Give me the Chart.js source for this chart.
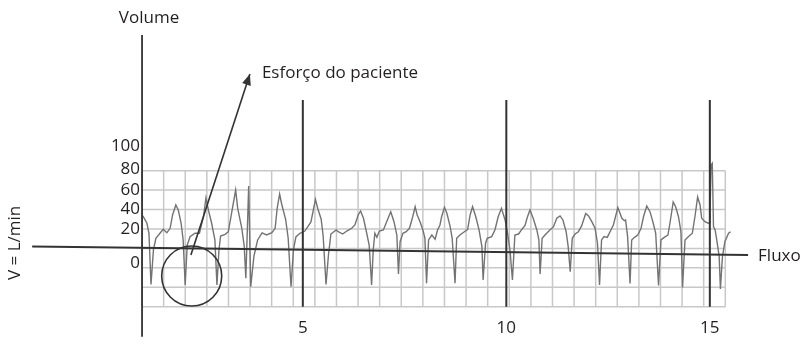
<!DOCTYPE html>
<html>
<head>
<meta charset="utf-8">
<script src="https://cdn.jsdelivr.net/npm/chart.js@4/dist/chart.umd.min.js"></script>
<style>
  html, body { margin: 0; padding: 0; background: #fff; }
  #wrap { width: 801px; height: 344px; }
</style>
</head>
<body>
<div id="wrap"><canvas id="c" width="801" height="344"></canvas></div>
<script>
// Ventilator flow trace: time (s) against flow (L/min)
const timeS = [
  1.07, 1.17, 1.22, 1.27, 1.33, 1.39, 1.49, 1.57, 1.66, 1.74, 1.80, 1.88, 1.94, 2.01, 2.06, 2.11,
  2.16, 2.23, 2.35, 2.46, 2.56, 2.62, 2.68, 2.76, 2.84, 2.89,
  2.94, 2.98, 3.09, 3.17, 3.25, 3.35, 3.40, 3.50, 3.56, 3.60, 3.67, 3.72,
  3.80, 3.89, 4.00, 4.11, 4.24, 4.32, 4.37, 4.43, 4.48, 4.58, 4.64, 4.71,
  4.77, 4.83, 4.93, 5.05, 5.20, 5.31, 5.37, 5.45, 5.50, 5.57,
  5.63, 5.69, 5.82, 5.87, 5.98, 6.08, 6.20, 6.28, 6.36, 6.42, 6.49, 6.57, 6.63, 6.69,
  6.73, 6.77, 6.82, 6.88, 6.98, 7.06, 7.16, 7.24, 7.31, 7.35,
  7.39, 7.46, 7.54, 7.62, 7.70, 7.76, 7.81, 7.88, 7.95, 8.00, 8.04,
  8.09, 8.17, 8.25, 8.31, 8.37, 8.41, 8.48, 8.54, 8.62, 8.67, 8.74,
  8.78, 8.86, 8.97, 9.05, 9.11, 9.17, 9.25, 9.33, 9.40, 9.43,
  9.49, 9.53, 9.64, 9.72, 9.80, 9.88, 9.97, 10.03, 10.09, 10.15,
  10.21, 10.30, 10.38, 10.46, 10.51, 10.58, 10.66, 10.75, 10.80, 10.83,
  10.88, 10.95, 11.07, 11.16, 11.24, 11.32, 11.39, 11.47, 11.52, 11.57,
  11.62, 11.69, 11.77, 11.85, 11.95, 12.02, 12.10, 12.18, 12.24, 12.29,
  12.34, 12.40, 12.48, 12.57, 12.63, 12.74, 12.84, 12.90, 12.93, 12.98, 13.04,
  13.08, 13.15, 13.23, 13.31, 13.37, 13.45, 13.53, 13.61, 13.67, 13.74,
  13.80, 13.88, 13.97, 14.02, 14.10, 14.16, 14.23, 14.29, 14.33,
  14.39, 14.47, 14.57, 14.64, 14.70, 14.76, 14.80, 14.88, 14.96, 15.00,
  15.03, 15.06, 15.09, 15.13, 15.17, 15.23, 15.26, 15.31, 15.37, 15.46, 15.51
];
const flowLmin = [
  33.4, 25.9, 15.6, -37.1, -1.6, 10.4, 15.6, 19.7, 16.2, 20.7, 34.4, 44.7, 39.5, 25.9, 8.7, -37.7,
  3.5, 12.1, 15.6, 15.6, 32.6, 51.9, 39.5, 25.9, 8.7, -37.7,
  -1.6, 12.8, 14.5, 17.2, 36.2, 60.1, 41.3, 21.0, 2.5, -30.8, 64.3, -39.4,
  -7.8, 8.7, 15.9, 13.8, 16.2, 20.7, 41.3, 56.0, 45.7, 29.3, 10.7, -39.4,
  -1.6, 11.8, 15.6, 17.9, 27.2, 50.4, 40.6, 30.3, 12.8, -37.1,
  -6.8, 14.8, 19.0, 17.2, 14.8, 17.9, 20.7, 24.1, 34.4, 38.5, 31.0, 15.6, 3.5, -37.7,
  -1.6, 15.6, 11.4, 17.9, 19.0, 27.5, 37.8, 27.5, 13.8, -26.3,
  6.9, 15.6, 17.2, 20.7, 32.6, 42.9, 34.4, 27.5, 19.0, 10.4, -35.9,
  8.7, 13.8, 9.4, 19.0, 24.1, 32.6, 42.3, 36.2, 22.4, 10.4, -35.9,
  10.4, 13.8, 17.2, 19.7, 34.4, 42.9, 32.6, 19.0, 1.8, -32.5,
  5.3, 10.4, 12.1, 19.0, 32.6, 41.3, 29.3, 15.6, -1.6, -32.5,
  13.8, 14.8, 19.5, 23.6, 31.3, 39.5, 31.0, 19.0, 8.7, -26.3,
  10.4, 13.8, 19.0, 22.4, 31.0, 33.4, 29.3, 17.2, 1.8, -24.0,
  10.4, 14.8, 17.2, 23.1, 35.9, 33.4, 27.5, 20.7, 5.3, -37.7,
  8.7, 12.1, 11.4, 19.0, 24.1, 42.1, 31.0, 28.5, 29.3, 12.1, -36.1,
  8.7, 11.4, 13.8, 20.7, 32.6, 43.7, 37.8, 25.9, 15.6, -38.2,
  8.7, 11.4, 13.8, 25.9, 47.8, 42.9, 32.6, 17.2, -40.2,
  8.7, 12.1, 15.6, 34.4, 52.9, 44.7, 31.0, 27.5, 25.9, 26.5,
  85.9, 87.6, 22.4, 19.0, 8.7, -8.5, -41.8, -8.5, 6.9, 15.6, 17.2
];

// Axis tick labels
const timeTicks = [5, 10, 15];
const flowTicks = [100, 80, 60, 40, 20, 0];

// Time marks drawn as dark vertical rules
const markerTimes = [5, 10, 15];

// Patient-effort breath that is circled and annotated
const effortTime = 2.27;
const effortFlow = -28.4;

const INK = '#231f20';
const FONT = '"Open Sans", "Noto Sans", sans-serif';

const xMin = -2.44, xMax = 17.24;
const yMin = -98.4, yMax = 255.7;

const axisTime = 1.05;
const gridTimeEnd = 15.38;
const gridCols = 27;
const gridFlowMin = -60, gridFlowMax = 80, gridFlowStep = 20;

const pts = (xs, ys) => xs.map((x, i) => ({ x, y: ys[i] }));

const lineDs = (data, color, width, order) => ({
  data, showLine: true, borderColor: color, borderWidth: width,
  pointRadius: 0, fill: false, tension: 0, order
});

const datasets = [
  Object.assign(lineDs(pts(timeS, flowLmin), '#737373', 1.4, 5), { label: 'Fluxo' }),
  lineDs([{ x: axisTime, y: 219.7 }, { x: axisTime, y: -91 }], '#333', 1.8, 1),
  lineDs([{ x: -1.65, y: 2.0 }, { x: 15.94, y: -6.8 }], '#333', 2, 1),
  ...markerTimes.map(t => lineDs([{ x: t, y: 152.8 }, { x: t, y: gridFlowMin }], '#333', 2, 1)),
  Object.assign(lineDs([{ x: effortTime - 0.02, y: -6.8 }, { x: 3.70, y: 179.5 }], '#333', 1.6, 1), { arrow: true }),
  {
    data: [{ x: effortTime, y: effortFlow }], showLine: false, pointRadius: 30, pointHoverRadius: 30,
    pointBorderWidth: 1.6, pointBorderColor: '#333', pointBackgroundColor: 'rgba(0,0,0,0)', order: 1
  }
];

const decor = {
  id: 'decor',
  beforeDatasetsDraw(chart) {
    const { ctx, scales: { x, y } } = chart;
    ctx.save();
    ctx.strokeStyle = '#c8c8c8';
    ctx.lineWidth = 1.5;
    const top = y.getPixelForValue(gridFlowMax), bot = y.getPixelForValue(gridFlowMin);
    const left = x.getPixelForValue(axisTime), right = x.getPixelForValue(gridTimeEnd);
    const step = (gridTimeEnd - axisTime) / gridCols;
    ctx.beginPath();
    for (let i = 0; i <= gridCols; i++) {
      const px = x.getPixelForValue(axisTime + i * step);
      ctx.moveTo(px, top); ctx.lineTo(px, bot);
    }
    for (let v = gridFlowMin; v <= gridFlowMax; v += gridFlowStep) {
      const py = y.getPixelForValue(v);
      ctx.moveTo(left, py); ctx.lineTo(right, py);
    }
    ctx.stroke();
    ctx.restore();
  },
  afterDraw(chart) {
    const { ctx, scales: { x, y } } = chart;
    ctx.save();
    ctx.fillStyle = INK;
    ctx.font = '17px ' + FONT;

    // arrow head
    chart.data.datasets.forEach((ds, i) => {
      if (!ds.arrow) return;
      const el = chart.getDatasetMeta(i).data;
      const a = el[el.length - 2], b = el[el.length - 1];
      const ang = Math.atan2(b.y - a.y, b.x - a.x);
      ctx.save();
      ctx.translate(b.x, b.y);
      ctx.rotate(ang);
      ctx.fillStyle = '#333';
      ctx.beginPath();
      ctx.moveTo(0, 0); ctx.lineTo(-11, -4.5); ctx.lineTo(-11, 4.5); ctx.closePath();
      ctx.fill();
      ctx.restore();
      ctx.textAlign = 'left'; ctx.textBaseline = 'middle';
      ctx.fillText('Esforço do paciente', b.x + 12, b.y - 1);
    });

    // flow tick labels
    const axisPx = x.getPixelForValue(axisTime);
    const nudge = { 100: -5, 80: -1.5, 0: 15 };
    ctx.textAlign = 'right'; ctx.textBaseline = 'middle';
    flowTicks.forEach(v => {
      ctx.fillText(String(v), axisPx - 2, y.getPixelForValue(v) + (nudge[v] || 0));
    });

    // time tick labels
    ctx.textAlign = 'center';
    const tickY = y.getPixelForValue(gridFlowMin) + 21;
    timeTicks.forEach(t => ctx.fillText(String(t), x.getPixelForValue(t), tickY));

    // axis titles
    ctx.fillText('Volume', axisPx + 7, y.getPixelForValue(219.7) - 17);
    ctx.textAlign = 'left';
    ctx.fillText('Fluxo', x.getPixelForValue(15.94) + 10, y.getPixelForValue(-6.8) + 1);
    ctx.save();
    ctx.translate(15, y.getPixelForValue(5.7));
    ctx.rotate(-Math.PI / 2);
    ctx.textAlign = 'center';
    ctx.fillText('V = L/min', 0, 0);
    ctx.restore();
    ctx.restore();
  }
};

new Chart(document.getElementById('c'), {
  type: 'scatter',
  data: { datasets },
  options: {
    responsive: false,
    animation: false,
    devicePixelRatio: 1,
    layout: { padding: 0, autoPadding: false },
    plugins: { legend: { display: false }, tooltip: { enabled: false } },
    events: [],
    scales: {
      x: { type: 'linear', min: xMin, max: xMax, display: false },
      y: { type: 'linear', min: yMin, max: yMax, display: false }
    },
    elements: { line: { capBezierPoints: false } }
  },
  plugins: [decor]
});
</script>
</body>
</html>
